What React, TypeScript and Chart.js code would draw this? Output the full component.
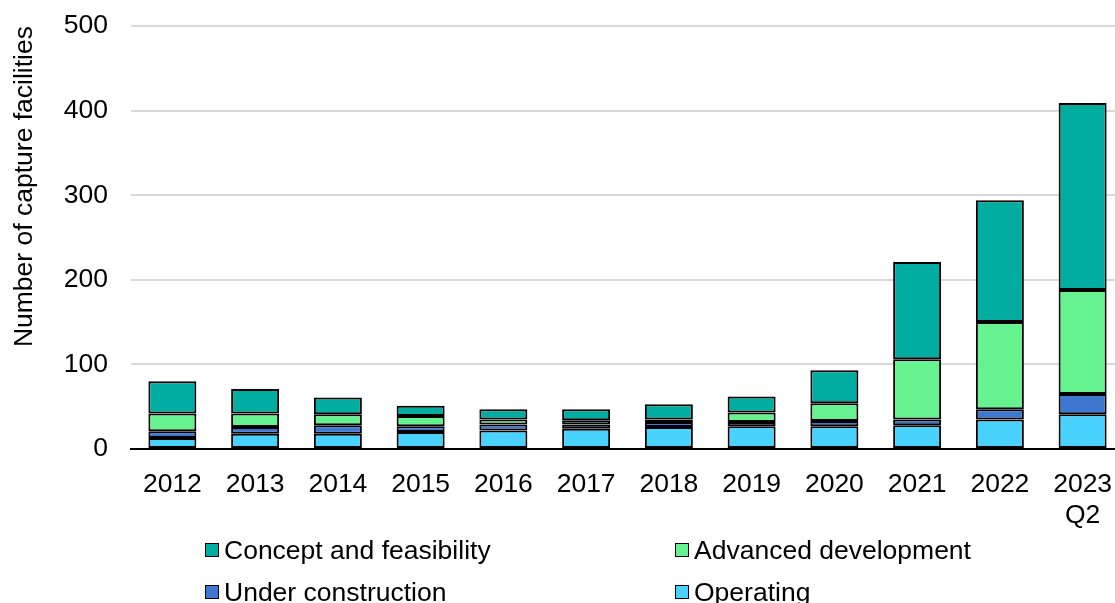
import React, { useEffect, useRef } from "react";
import { Chart, registerables } from "chart.js";

Chart.register(...registerables);

const categories: (string | string[])[] = ["2012", "2013", "2014", "2015", "2016", "2017", "2018", "2019", "2020", "2021", "2022", ["2023", "Q2"]];
const operating = [13, 18, 18, 20, 22, 24, 26, 27, 27, 28, 35, 41];
const underConstruction = [8, 8, 10, 7, 7, 5, 6, 5, 6, 7, 12, 24];
const advancedDevelopment = [21, 16, 13, 12, 6, 5, 3, 11, 21, 71, 103, 123];
const conceptFeasibility = [38, 29, 20, 12, 12, 13, 18, 19, 39, 115, 144, 221];
const yTicks = [0, 100, 200, 300, 400, 500];

const COLORS = {
  cf: "#00ADA0",
  ad: "#67F290",
  uc: "#3E77CF",
  op: "#4AD2FF",
};

const legendItems = [
  { label: "Concept and feasibility", color: COLORS.cf, left: 205, top: 550 },
  { label: "Advanced development", color: COLORS.ad, left: 675, top: 550 },
  { label: "Under construction", color: COLORS.uc, left: 205, top: 592 },
  { label: "Operating", color: COLORS.op, left: 675, top: 592 },
];

const FONT = "'Liberation Sans', Arial, sans-serif";
const FS = 26.5;

export default function App() {
  const ref = useRef<HTMLCanvasElement>(null);

  useEffect(() => {
    if (!ref.current) return;
    const mk = (label: string, data: number[], color: string) => ({
      label,
      data,
      backgroundColor: color,
      borderColor: "#000",
      borderWidth: 2,
      borderSkipped: false as const,
      barPercentage: 0.58,
      categoryPercentage: 1,
    });
    const chart = new Chart(ref.current, {
      type: "bar",
      data: {
        labels: categories as any,
        datasets: [
          mk("Operating", operating, COLORS.op),
          mk("Under construction", underConstruction, COLORS.uc),
          mk("Advanced development", advancedDevelopment, COLORS.ad),
          mk("Concept and feasibility", conceptFeasibility, COLORS.cf),
        ],
      },
      options: {
        animation: false,
        responsive: true,
        maintainAspectRatio: false,
        layout: { padding: { top: 26, right: 0, left: 0, bottom: 0 } },
        plugins: {
          legend: { display: false },
          tooltip: { enabled: false },
        },
        scales: {
          x: {
            stacked: true,
            grid: { display: false, drawTicks: false },
            border: { display: true, color: "#000", width: 2 },
            ticks: {
              color: "#000",
              font: { family: FONT, size: FS, lineHeight: 1.17 },
              padding: 20,
              maxRotation: 0,
              autoSkip: false,
            },
            afterFit: (s: any) => {
              s.height = 154;
              s.paddingLeft = 0;
              s.paddingRight = 0;
            },
          },
          y: {
            stacked: true,
            min: 0,
            max: 500,
            afterBuildTicks: (s: any) => {
              s.ticks = yTicks.map((v) => ({ value: v }));
            },
            grid: { color: "#D9D9D9", lineWidth: 2, drawTicks: false },
            border: { display: false },
            ticks: {
              color: "#000",
              font: { family: FONT, size: FS },
              padding: 23,
            },
            title: {
              display: true,
              text: "Number of capture facilities",
              color: "#000",
              align: "end",
              font: { family: FONT, size: FS },
              padding: { top: 9, bottom: 0 },
            },
            afterFit: (s: any) => {
              s.width = 131;
              s.paddingTop = 0;
              s.paddingBottom = 0;
            },
          },
        },
      },
    });
    return () => chart.destroy();
  }, []);

  return (
    <div style={{ position: "fixed", left: 0, top: 0, width: 1115, height: 603, overflow: "hidden", background: "#fff" }}>
      <div style={{ position: "absolute", left: 0, top: 0, width: 1124, height: 603 }}>
        <canvas ref={ref} />
      </div>
      {legendItems.map((it) => (
        <div
          key={it.label}
          style={{
            position: "absolute",
            left: it.left,
            top: it.top - 16,
            height: 32,
            display: "flex",
            alignItems: "center",
            fontFamily: FONT,
            fontSize: FS,
            color: "#000",
            whiteSpace: "nowrap",
          }}
        >
          <span
            style={{
              display: "inline-block",
              width: 12,
              height: 12,
              background: it.color,
              border: "1.5px solid #000",
              marginRight: 5,
            }}
          />
          <span>{it.label}</span>
        </div>
      ))}
    </div>
  );
}
